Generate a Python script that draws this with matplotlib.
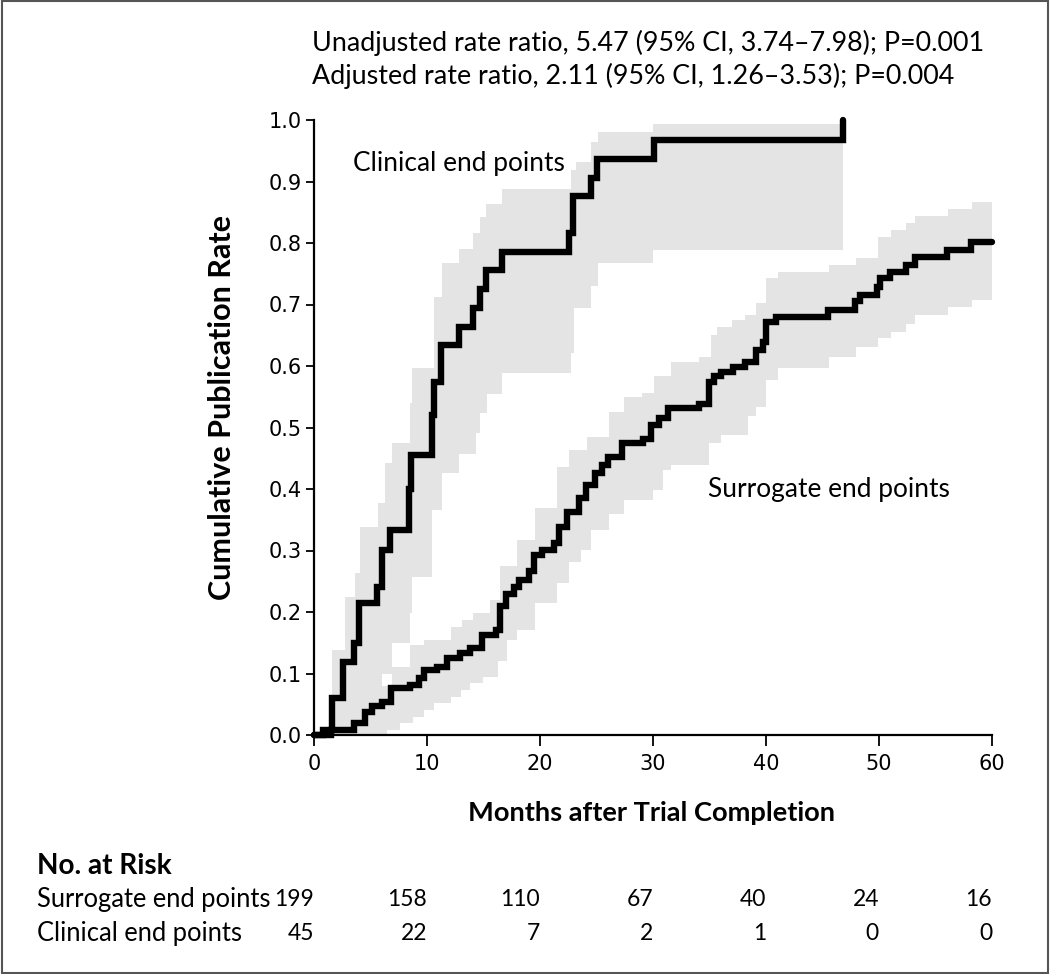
import numpy as np
import matplotlib
matplotlib.use("Agg")
import matplotlib.pyplot as plt
from matplotlib.patches import Rectangle

# ---------------- data ----------------
clin_t = [0, 0.8, 1.6, 2.6, 3.5, 3.95, 5.55, 6.0, 6.75, 8.45, 8.6, 10.4, 10.6, 11.2,
          12.8, 14.1, 14.7, 15.2, 16.65, 22.6, 22.9, 24.5, 25.05, 30.05, 46.8]
clin_v = [0, 0.008, 0.060, 0.119, 0.149, 0.214, 0.241, 0.301, 0.333, 0.40, 0.455, 0.52,
          0.574, 0.634, 0.664, 0.694, 0.726, 0.756, 0.786, 0.816, 0.876, 0.906, 0.937,
          0.967, 1.0]

surr_t = [0, 1.5, 3.5, 4.5, 5.1, 6.0, 6.8, 8.5, 9.25, 9.7, 10.9, 11.8, 12.95, 13.8,
          14.9, 16.1, 16.5, 16.95, 17.7, 18.1, 19.0, 19.5, 20.2, 21.2, 21.7, 22.4,
          23.45, 24.05, 24.9, 25.5, 26.0, 27.3, 29.1, 29.8, 30.55, 31.3, 34.1, 35.0,
          35.4, 36.0, 37.1, 38.1, 39.1, 39.7, 40.0, 40.9, 45.5, 47.9, 48.3, 49.8,
          50.1, 51.0, 52.4, 53.2, 56.0, 58.1, 60.0]
surr_v = [0, 0.008, 0.019, 0.038, 0.047, 0.054, 0.076, 0.082, 0.092, 0.106, 0.111,
          0.125, 0.133, 0.141, 0.163, 0.171, 0.209, 0.230, 0.241, 0.252, 0.266, 0.293,
          0.301, 0.312, 0.339, 0.363, 0.385, 0.407, 0.426, 0.439, 0.452, 0.474, 0.482,
          0.504, 0.515, 0.531, 0.539, 0.574, 0.583, 0.591, 0.599, 0.607, 0.626, 0.639,
          0.672, 0.680, 0.691, 0.705, 0.715, 0.729, 0.743, 0.753, 0.764, 0.778, 0.789,
          0.802, 0.802]

# 95% confidence bands (step functions)
clin_ci_t = [0, 1.6, 2.6, 2.75, 3.6, 4.1, 5.65, 5.7, 6.0, 6.3, 6.9, 8.5, 8.65, 10.4,
             10.6, 11.3, 12.8, 14.1, 14.3, 14.7, 15.2, 15.3, 16.65, 22.7, 23.0, 23.15,
             24.5, 25.1, 30.0, 46.8]
clin_ci_lo = [0, 0, 0.01, 0.01, 0.02, 0.02, 0.05, 0.05, 0.10, 0.10, 0.15, 0.198, 0.257,
              0.366, 0.366, 0.426, 0.457, 0.457, 0.491, 0.523, 0.523, 0.555, 0.589,
              0.621, 0.694, 0.694, 0.73, 0.767, 0.789, 0.789]
clin_ci_hi = [0, 0.138, 0.138, 0.225, 0.263, 0.338, 0.338, 0.377, 0.377, 0.442, 0.475,
              0.54, 0.597, 0.597, 0.713, 0.767, 0.791, 0.816, 0.816, 0.843, 0.864, 0.864,
              0.887, 0.919, 0.919, 0.932, 0.965, 0.981, 0.993, 0.993]

surr_hi_t = [0, 1.5, 3.0, 3.9, 5.7, 6.9, 8.5, 9.7, 12.1, 13.1, 14.1, 15.6, 16.5, 18.0,
             19.6, 21.5, 22.6, 24.2, 26.1, 27.4, 29.0, 30.1, 31.6, 34.1, 35.1, 35.7,
             37.0, 38.1, 39.1, 40.0, 41.05, 45.6, 48.0, 49.9, 51.1, 52.4, 53.2, 56.1,
             58.2, 60.0]
surr_hi_v = [0, 0.02, 0.04, 0.057, 0.079, 0.111, 0.146, 0.154, 0.176, 0.187, 0.198, 0.22,
             0.274, 0.317, 0.369, 0.436, 0.463, 0.485, 0.526, 0.55, 0.556, 0.583, 0.607,
             0.615, 0.650, 0.664, 0.675, 0.683, 0.702, 0.743, 0.753, 0.764, 0.775, 0.81,
             0.821, 0.833, 0.844, 0.855, 0.866, 0.866]
surr_lo_t = [0, 6.45, 7.6, 8.8, 9.7, 10.6, 12.1, 13.0, 13.8, 15.0, 16.3, 17.1, 18.0,
             19.6, 21.5, 22.6, 23.6, 24.5, 26.1, 27.4, 30.0, 30.9, 31.6, 35.0, 36.0,
             38.4, 39.1, 40.0, 41.05, 45.6, 48.0, 49.9, 51.1, 52.4, 53.2, 56.1, 58.2, 60.0]
surr_lo_v = [0, 0.008, 0.019, 0.03, 0.041, 0.052, 0.062, 0.073, 0.084, 0.095, 0.12,
             0.154, 0.171, 0.214, 0.247, 0.282, 0.301, 0.333, 0.360, 0.382, 0.398,
             0.431, 0.439, 0.474, 0.488, 0.518, 0.534, 0.577, 0.596, 0.615, 0.631,
             0.645, 0.656, 0.669, 0.683, 0.696, 0.707, 0.707]

x_ticks = [0, 10, 20, 30, 40, 50, 60]
y_ticks = [0.0, 0.1, 0.2, 0.3, 0.4, 0.5, 0.6, 0.7, 0.8, 0.9, 1.0]
risk_surr = [199, 158, 110, 67, 40, 24, 16]
risk_clin = [45, 22, 7, 2, 1, 0, 0]

header1 = "Unadjusted rate ratio, 5.47 (95% CI, 3.74\u20137.98); P=0.001"
header2 = "Adjusted rate ratio, 2.11 (95% CI, 1.26\u20133.53); P=0.004"

# ---------------- drawing ----------------
FONT = "Lato"
W, H = 1050, 974
fig = plt.figure(figsize=(W / 100, H / 100), dpi=100)
fig.patch.set_facecolor("white")

def fx(px):
    return px / W

def fy(py):
    return 1 - py / H

ax = fig.add_axes([fx(314), fy(735), fx(992) - fx(314), fy(120) - fy(735)])
ax.set_xlim(0, 60)
ax.set_ylim(0, 1.0)

def step_eval(ts, vs, grid):
    ts = np.asarray(ts)
    vs = np.asarray(vs)
    idx = np.searchsorted(ts, grid, side="right") - 1
    return vs[np.clip(idx, 0, len(vs) - 1)]

band_color = "#e4e4e4"
ax.fill_between(clin_ci_t, clin_ci_lo, clin_ci_hi, step="post", color=band_color,
                lw=0, zorder=1)
grid_s = np.unique(np.concatenate([surr_hi_t, surr_lo_t]))
ax.fill_between(grid_s, step_eval(surr_lo_t, surr_lo_v, grid_s),
                step_eval(surr_hi_t, surr_hi_v, grid_s), step="post",
                color=band_color, lw=0, zorder=1)

for t, v in [(surr_t, surr_v), (clin_t, clin_v)]:
    ax.step(t, v, where="post", color="black", lw=4.6, solid_joinstyle="miter",
            solid_capstyle="round", zorder=3, clip_on=False)

for s in ["top", "right"]:
    ax.spines[s].set_visible(False)
for s in ["left", "bottom"]:
    ax.spines[s].set_linewidth(1.6)
    ax.spines[s].set_zorder(4)

ax.set_xticks(x_ticks)
ax.set_xticklabels([str(v) for v in x_ticks])
ax.set_yticks(y_ticks)
ax.set_yticklabels([f"{v:.1f}" for v in y_ticks])
ax.tick_params(axis="x", direction="out", length=8, width=1.3, pad=6,
               labelsize=15)
ax.tick_params(axis="y", direction="out", length=6, width=1.3, pad=3,
               labelsize=15)
for lab in ax.get_xticklabels() + ax.get_yticklabels():
    lab.set_fontfamily("DejaVu Sans")

txt = dict(family=FONT, fontsize=18.9, color="black")
row = dict(family=FONT, fontsize=18.4, color="black")
hdr = dict(family=FONT, fontsize=19.4, color="black")
num = dict(family=FONT, fontsize=16.5, color="black")

ax.text(3.45, 0.93, "Clinical end points", ha="left", va="center", **txt)
ax.text(34.9, 0.40, "Surrogate end points", ha="left", va="center", **txt)

fig.text(fx(312), fy(43), header1, ha="left", va="center", **hdr)
fig.text(fx(312), fy(76), header2, ha="left", va="center", **hdr)

fig.text(fx(222), fy(407), "Cumulative Publication Rate", rotation=90,
         ha="center", va="center", family=FONT, fontsize=22, weight="bold")
fig.text(fx(652), fy(813), "Months after Trial Completion", ha="center",
         va="center", family=FONT, fontsize=19.6, weight="bold")

fig.text(fx(37), fy(866), "No. at Risk", ha="left", va="center", family=FONT,
         fontsize=20.2, weight="bold")
fig.text(fx(37), fy(900), "Surrogate end points", ha="left", va="center", **row)
fig.text(fx(37), fy(933), "Clinical end points", ha="left", va="center", **row)

for xv, ns, nc in zip(x_ticks, risk_surr, risk_clin):
    px = 314 + xv * (992 - 314) / 60
    fig.text(fx(px), fy(900), str(ns), ha="right", va="center", **num)
    fig.text(fx(px), fy(933), str(nc), ha="right", va="center", **num)

fig.patches.append(Rectangle((0.0015, 0.0015), 0.997, 0.997, transform=fig.transFigure,
                             fill=False, edgecolor="#555555", lw=1.5))

fig.savefig("out.png", dpi=100, facecolor="white")
